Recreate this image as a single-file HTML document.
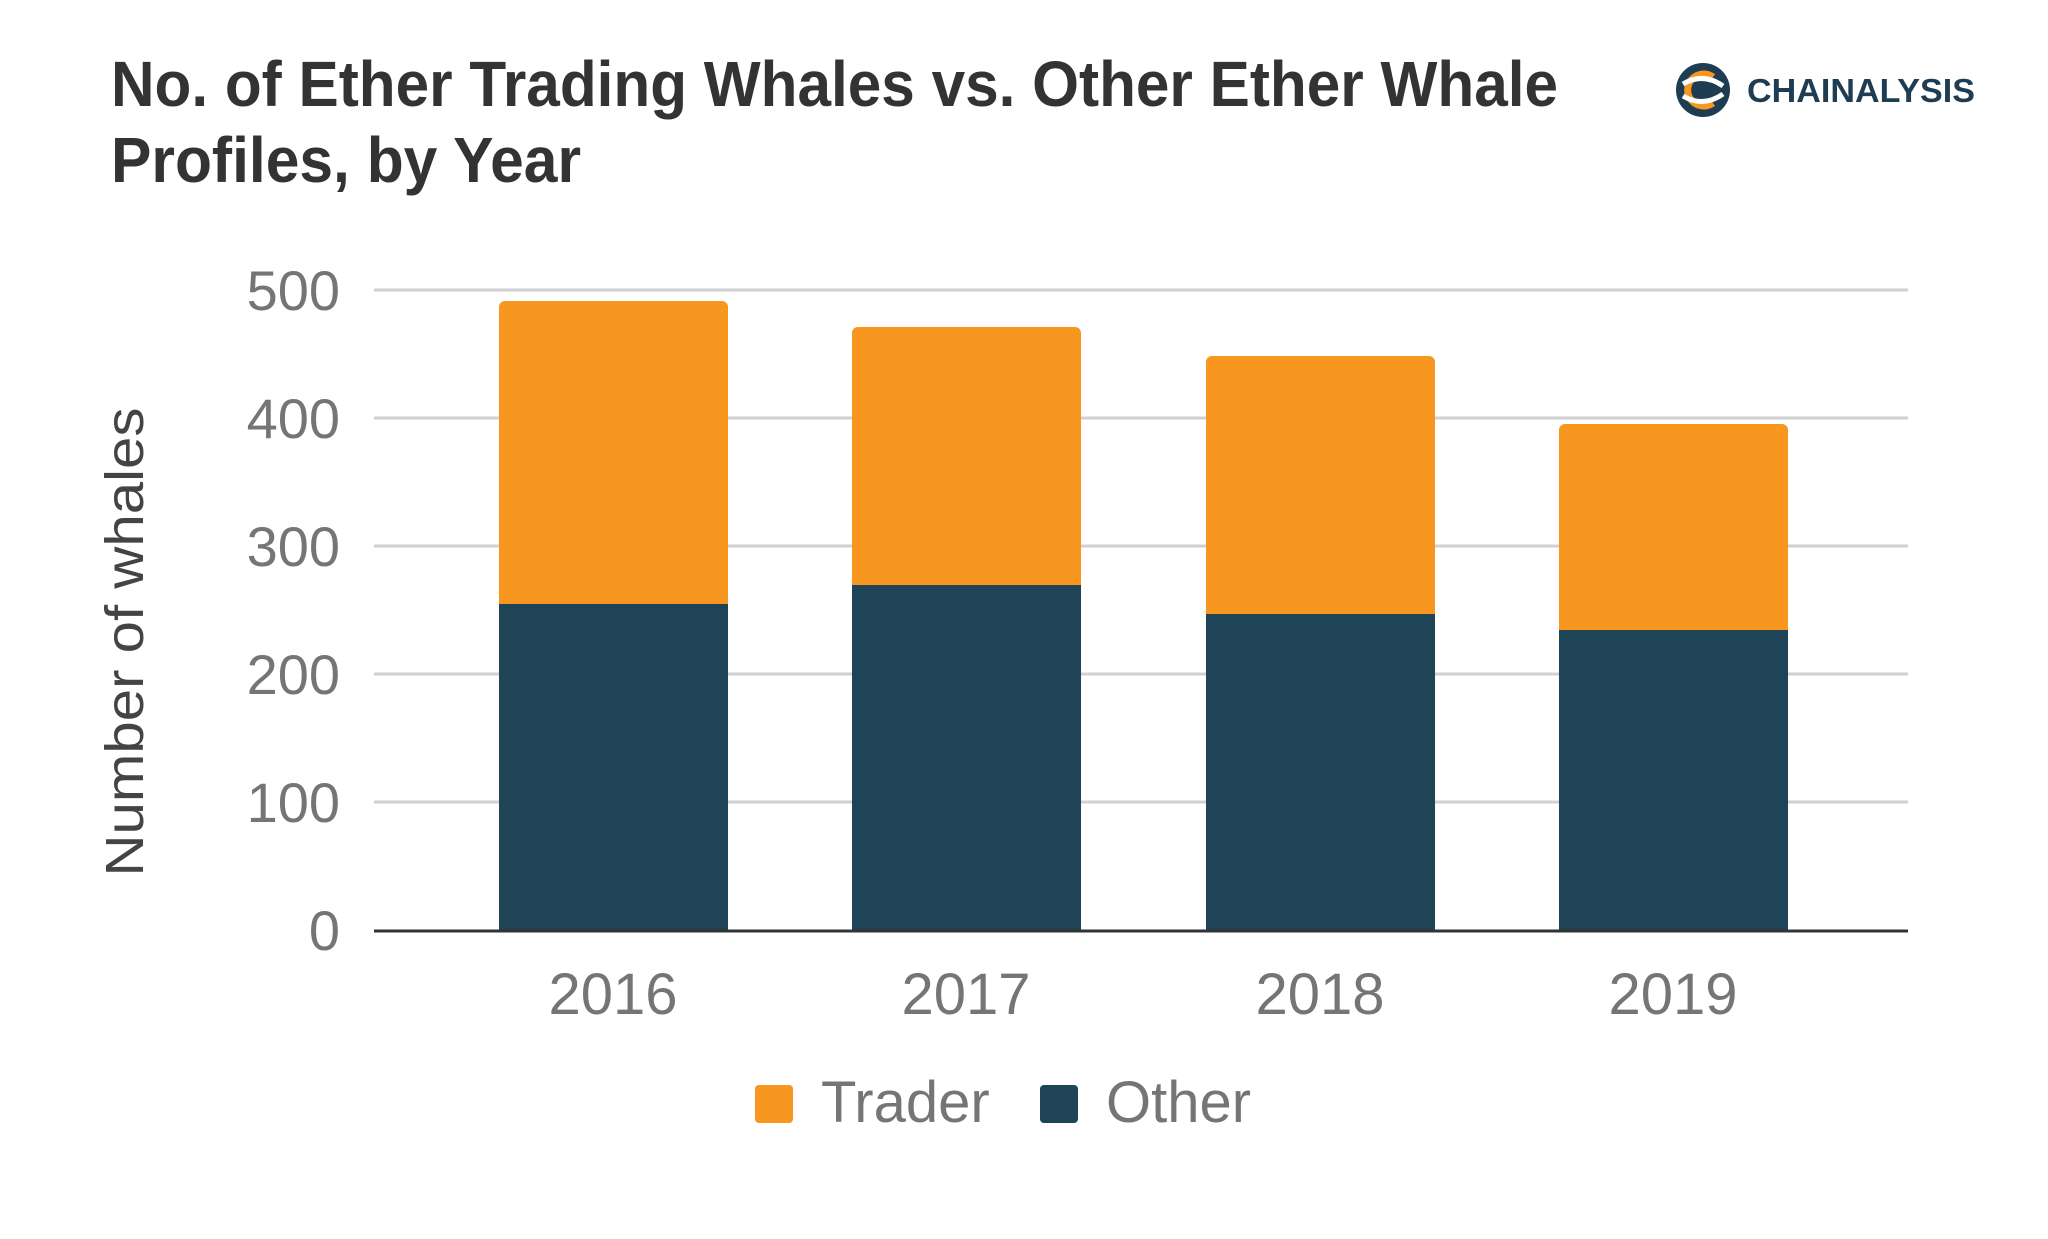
<!DOCTYPE html>
<html><head><meta charset="utf-8"><style>
html,body{margin:0;padding:0;background:#fff;}
svg{display:block;}
text{font-family:"Liberation Sans",sans-serif;}
</style></head><body>
<svg width="2048" height="1239" viewBox="0 0 2048 1239" xmlns="http://www.w3.org/2000/svg">
<rect width="2048" height="1239" fill="#fff"/>
<text x="111" y="106" font-size="64" font-weight="bold" fill="#333" textLength="1447" lengthAdjust="spacingAndGlyphs">No. of Ether Trading Whales vs. Other Ether Whale</text>
<text x="111" y="182" font-size="64" font-weight="bold" fill="#333" textLength="470" lengthAdjust="spacingAndGlyphs">Profiles, by Year</text>
<g transform="translate(1703,90)">
<circle r="27" fill="#1f3d52"/>
<path d="M10,-13 A16,16 0 1 0 10,13" fill="none" stroke="#f7971f" stroke-width="7"/>
<path d="M-20,-6 Q0,-18 20,-4" fill="none" stroke="#fff" stroke-width="5"/>
<path d="M-20,6 Q0,18 20,4" fill="none" stroke="#fff" stroke-width="5"/>
</g>
<text x="1747" y="102" font-size="33" font-weight="bold" fill="#1f3d52" textLength="228" lengthAdjust="spacingAndGlyphs">CHAINALYSIS</text>
<g stroke="#d0d0d0" stroke-width="3">
<line x1="374" y1="290" x2="1908" y2="290"/>
<line x1="374" y1="418" x2="1908" y2="418"/>
<line x1="374" y1="546" x2="1908" y2="546"/>
<line x1="374" y1="674" x2="1908" y2="674"/>
<line x1="374" y1="802" x2="1908" y2="802"/>
</g>
<g font-size="56" fill="#757575" text-anchor="end">
<text x="340" y="310">500</text>
<text x="340" y="438">400</text>
<text x="340" y="566">300</text>
<text x="340" y="694">200</text>
<text x="340" y="822">100</text>
<text x="340" y="950">0</text>
</g>
<text transform="translate(143,642) rotate(-90)" font-size="54" fill="#444" text-anchor="middle" textLength="469" lengthAdjust="spacingAndGlyphs">Number of whales</text>
<g>
<rect x="499" y="301" width="229" height="310" rx="6" fill="#f7971f"/>
<rect x="499" y="604" width="229" height="326" fill="#1f4357"/>
<rect x="852" y="327" width="229" height="265" rx="6" fill="#f7971f"/>
<rect x="852" y="585" width="229" height="345" fill="#1f4357"/>
<rect x="1206" y="356" width="229" height="265" rx="6" fill="#f7971f"/>
<rect x="1206" y="614" width="229" height="316" fill="#1f4357"/>
<rect x="1559" y="424" width="229" height="213" rx="6" fill="#f7971f"/>
<rect x="1559" y="630" width="229" height="300" fill="#1f4357"/>
</g>
<line x1="374" y1="931" x2="1908" y2="931" stroke="#333" stroke-width="3"/>
<g font-size="58" fill="#757575" text-anchor="middle">
<text x="613" y="1014">2016</text>
<text x="966" y="1014">2017</text>
<text x="1320" y="1014">2018</text>
<text x="1673" y="1014">2019</text>
</g>
<rect x="755" y="1085" width="38" height="38" rx="4" fill="#f7971f"/>
<text x="821" y="1122" font-size="58" fill="#757575">Trader</text>
<rect x="1040" y="1085" width="38" height="38" rx="4" fill="#1f4357"/>
<text x="1106" y="1122" font-size="58" fill="#757575">Other</text>
</svg>
</body></html>
